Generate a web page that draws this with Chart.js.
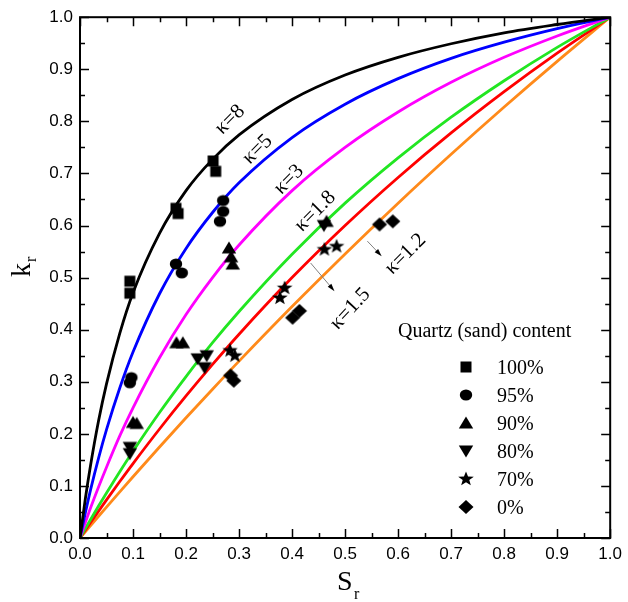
<!DOCTYPE html>
<html>
<head>
<meta charset="utf-8">
<script src="https://cdn.jsdelivr.net/npm/chart.js@4/dist/chart.umd.min.js"></script>
<style>
  html, body { margin: 0; padding: 0; background: #fff; }
  #wrap { width: 628px; height: 602px; position: relative; }
</style>
</head>
<body>
<div id="wrap"><canvas id="c" width="628" height="602"></canvas></div>
<script>
// ---- Model curves kr(Sr), sampled on a shared Sr grid ----
const srGrid  = [0, 0.01, 0.02, 0.035, 0.05, 0.075, 0.1, 0.15, 0.2, 0.25, 0.3, 0.4, 0.5, 0.6, 0.7, 0.8, 0.9, 1.0];
const kappa8  = [0, 0.0748, 0.140, 0.225, 0.296, 0.393, 0.471, 0.585, 0.667, 0.727, 0.774, 0.842, 0.889, 0.923, 0.949, 0.970, 0.986, 1];
const kappa5  = [0, 0.048, 0.093, 0.1535, 0.208, 0.288, 0.357, 0.469, 0.556, 0.625, 0.682, 0.769, 0.833, 0.882, 0.921, 0.952, 0.978, 1];
const kappa3  = [0, 0.0294, 0.058, 0.098, 0.136, 0.196, 0.25, 0.346, 0.429, 0.5, 0.5625, 0.667, 0.75, 0.818, 0.875, 0.923, 0.964, 1];
const kappa18 = [0, 0.0179, 0.0354, 0.0613, 0.0865, 0.1274, 0.1667, 0.241, 0.310, 0.375, 0.435, 0.545, 0.643, 0.730, 0.808, 0.878, 0.942, 1];
const kappa15 = [0, 0.0149, 0.0297, 0.0516, 0.0732, 0.1084, 0.1429, 0.2093, 0.2727, 0.3333, 0.3913, 0.5, 0.6, 0.6923, 0.7778, 0.8571, 0.9310, 1];
const kappa12 = [0, 0.012, 0.0239, 0.0417, 0.0594, 0.0887, 0.1176, 0.1748, 0.2308, 0.2857, 0.3396, 0.4444, 0.5455, 0.6429, 0.7368, 0.8276, 0.9153, 1];
const curveNames = ['κ=8', 'κ=5', 'κ=3', 'κ=1.8', 'κ=1.5', 'κ=1.2'];

// ---- Measurements, by quartz (sand) content ----
const sr100 = [0.094, 0.094, 0.181, 0.185, 0.251, 0.256];
const kr100 = [0.493, 0.470, 0.633, 0.623, 0.724, 0.704];
const sr95  = [0.094, 0.097, 0.181, 0.192, 0.264, 0.270, 0.270];
const kr95  = [0.298, 0.308, 0.526, 0.509, 0.608, 0.627, 0.648];
const sr90  = [0.100, 0.107, 0.182, 0.194, 0.281, 0.285, 0.288, 0.465];
const kr90  = [0.222, 0.220, 0.375, 0.375, 0.557, 0.540, 0.526, 0.608];
const sr80  = [0.094, 0.094, 0.222, 0.239, 0.235, 0.460];
const kr80  = [0.174, 0.162, 0.344, 0.350, 0.327, 0.600];
const sr70  = [0.283, 0.292, 0.377, 0.386, 0.461, 0.484];
const kr70  = [0.360, 0.350, 0.461, 0.480, 0.554, 0.560];
const sr0   = [0.284, 0.290, 0.401, 0.414, 0.565, 0.590];
const kr0   = [0.312, 0.302, 0.423, 0.436, 0.602, 0.608];
const contentNames = ['100%', '95%', '90%', '80%', '70%', '0%'];

// ---- Axis ticks ----
const tickValues = [0, 0.1, 0.2, 0.3, 0.4, 0.5, 0.6, 0.7, 0.8, 0.9, 1.0];

// ---- Styling ----
const curveColors = ['#000000', '#0000ff', '#ff00ff', '#22e622', '#ff0000', '#ff8a1a'];
const serif = '"Liberation Serif", "Times New Roman", serif';
const sans = '"Liberation Sans", Arial, sans-serif';

// Marker glyphs drawn once onto small canvases and reused by the datasets and the key
function makeMarker(kind) {
  const s = 18, c = document.createElement('canvas');
  c.width = s; c.height = s;
  const g = c.getContext('2d');
  g.fillStyle = '#000';
  g.translate(s / 2, s / 2);
  g.beginPath();
  if (kind === 'square') {
    g.rect(-5.5, -5.5, 11, 11);
  } else if (kind === 'circle') {
    g.ellipse(0, 0, 6.2, 5.6, 0, 0, Math.PI * 2);
  } else if (kind === 'up') {
    g.moveTo(0, -6.5); g.lineTo(7.2, 5.5); g.lineTo(-7.2, 5.5); g.closePath();
  } else if (kind === 'down') {
    g.moveTo(0, 6.5); g.lineTo(7.2, -5.5); g.lineTo(-7.2, -5.5); g.closePath();
  } else if (kind === 'star') {
    for (let i = 0; i < 10; i++) {
      const r = i % 2 === 0 ? 7.6 : 3.2;
      const a = -Math.PI / 2 + i * Math.PI / 5;
      const px = Math.cos(a) * r * 1.08, py = Math.sin(a) * r;
      if (i === 0) g.moveTo(px, py); else g.lineTo(px, py);
    }
    g.closePath();
  } else if (kind === 'diamond') {
    g.moveTo(0, -7); g.lineTo(7.5, 0); g.lineTo(0, 7); g.lineTo(-7.5, 0); g.closePath();
  }
  g.fill();
  return c;
}
const markerKinds = ['square', 'circle', 'up', 'down', 'star', 'diamond'];
const markers = markerKinds.map(makeMarker);

const toPts = (xs, ys) => xs.map((x, i) => ({ x: x, y: ys[i] }));

const curves = [kappa8, kappa5, kappa3, kappa18, kappa15, kappa12];
const measured = [[sr100, kr100], [sr95, kr95], [sr90, kr90], [sr80, kr80], [sr70, kr70], [sr0, kr0]];

const datasets = [];
measured.forEach((m, i) => {
  datasets.push({
    label: contentNames[i],
    data: toPts(m[0], m[1]),
    pointStyle: markers[i],
    pointRadius: 7,
    showLine: false,
    order: 0
  });
});
curves.forEach((ys, i) => {
  datasets.push({
    label: curveNames[i],
    data: toPts(srGrid, ys),
    showLine: true,
    borderColor: curveColors[i],
    borderWidth: 2.8,
    pointRadius: 0,
    cubicInterpolationMode: 'monotone',
    fill: false,
    order: 1
  });
});

// Curve labels (position in data units, rotation in degrees)
const curveTags = [
  { text: 'κ=8',   x: 0.283, y: 0.803, rot: -45 },
  { text: 'κ=5',   x: 0.335, y: 0.746, rot: -45 },
  { text: 'κ=3',   x: 0.394, y: 0.688, rot: -45 },
  { text: 'κ=1.8', x: 0.444, y: 0.627, rot: -45 },
  { text: 'κ=1.5', x: 0.510, y: 0.440, rot: -47 },
  { text: 'κ=1.2', x: 0.614, y: 0.545, rot: -45 }
];
// Pointer arrows from the labels to their curves
const pointers = [
  { x0: 0.435, y0: 0.528, x1: 0.480, y1: 0.474 },
  { x0: 0.542, y0: 0.570, x1: 0.569, y1: 0.541 }
];

const frameAndTicks = {
  id: 'frameAndTicks',
  afterDraw(chart) {
    const { ctx, chartArea: a } = chart;
    const xs = chart.scales.x, ys = chart.scales.y;
    ctx.save();
    ctx.strokeStyle = '#000';
    ctx.lineWidth = 1.5;
    for (let i = 0; i <= 20; i++) {
      const v = i / 20;
      const len = i % 2 === 0 ? 9 : 5;
      const px = Math.round(xs.getPixelForValue(v)) + 0.5;
      const py = Math.round(ys.getPixelForValue(v)) + 0.5;
      ctx.beginPath();
      ctx.moveTo(px, a.bottom); ctx.lineTo(px, a.bottom - len);
      ctx.moveTo(px, a.top); ctx.lineTo(px, a.top + len);
      ctx.moveTo(a.left, py); ctx.lineTo(a.left + len, py);
      ctx.moveTo(a.right, py); ctx.lineTo(a.right - len, py);
      ctx.stroke();
    }
    ctx.lineWidth = 2;
    ctx.strokeRect(a.left, a.top, a.right - a.left, a.bottom - a.top);
    ctx.restore();
  }
};

const notes = {
  id: 'notes',
  afterDraw(chart) {
    const { ctx } = chart;
    const xs = chart.scales.x, ys = chart.scales.y;
    ctx.save();
    ctx.fillStyle = '#000';

    // curve labels
    ctx.font = '21px ' + serif;
    ctx.textAlign = 'center';
    ctx.textBaseline = 'middle';
    curveTags.forEach(t => {
      ctx.save();
      ctx.translate(xs.getPixelForValue(t.x), ys.getPixelForValue(t.y));
      ctx.rotate(t.rot * Math.PI / 180);
      ctx.fillText(t.text, 0, 0);
      ctx.restore();
    });

    // pointer arrows
    pointers.forEach(p => {
      const x0 = xs.getPixelForValue(p.x0), y0 = ys.getPixelForValue(p.y0);
      const x1 = xs.getPixelForValue(p.x1), y1 = ys.getPixelForValue(p.y1);
      const ang = Math.atan2(y1 - y0, x1 - x0);
      ctx.strokeStyle = '#808080';
      ctx.lineWidth = 1;
      ctx.beginPath(); ctx.moveTo(x0, y0); ctx.lineTo(x1 - 5 * Math.cos(ang), y1 - 5 * Math.sin(ang)); ctx.stroke();
      ctx.beginPath();
      ctx.moveTo(x1, y1);
      ctx.lineTo(x1 - 8 * Math.cos(ang - 0.3), y1 - 8 * Math.sin(ang - 0.3));
      ctx.lineTo(x1 - 8 * Math.cos(ang + 0.3), y1 - 8 * Math.sin(ang + 0.3));
      ctx.closePath();
      ctx.fillStyle = '#000';
      ctx.fill();
    });

    // key
    ctx.textAlign = 'left';
    ctx.textBaseline = 'alphabetic';
    ctx.font = '20px ' + serif;
    ctx.fillText('Quartz (sand) content', 398, 337);
    contentNames.forEach((name, i) => {
      const cy = 367 + i * 28;
      ctx.drawImage(markers[i], 466 - 9, cy - 9);
      ctx.fillText(name, 497, cy + 7);
    });

    // axis titles
    ctx.font = '28px ' + serif;
    ctx.fillText('S', 337, 590);
    ctx.font = '16px ' + serif;
    ctx.fillText('r', 354, 599);

    ctx.save();
    ctx.translate(30, 277);
    ctx.rotate(-Math.PI / 2);
    ctx.font = '28px ' + serif;
    ctx.fillText('k', 0, 0);
    ctx.font = '16px ' + serif;
    ctx.fillText('r', 15, 6);
    ctx.restore();

    ctx.restore();
  }
};

const tickFont = { family: sans, size: 17 };

new Chart(document.getElementById('c'), {
  type: 'scatter',
  data: { datasets: datasets },
  options: {
    responsive: false,
    animation: false,
    devicePixelRatio: 1,
    layout: { padding: { top: 15, right: 17, left: 0, bottom: 0 } },
    plugins: { legend: { display: false }, tooltip: { enabled: false } },
    scales: {
      x: {
        type: 'linear', min: 0, max: 1,
        afterBuildTicks: s => { s.ticks = tickValues.map(v => ({ value: v })); },
        afterFit: s => { s.height = 64; },
        grid: { display: false, drawTicks: false },
        border: { display: false },
        ticks: { font: tickFont, color: '#000', padding: 6, maxRotation: 0, autoSkip: false,
                 callback: v => Number(v).toFixed(1) }
      },
      y: {
        type: 'linear', min: 0, max: 1,
        afterBuildTicks: s => { s.ticks = tickValues.map(v => ({ value: v })); },
        afterFit: s => { s.width = 80; },
        grid: { display: false, drawTicks: false },
        border: { display: false },
        ticks: { font: tickFont, color: '#000', padding: 7, autoSkip: false,
                 callback: v => Number(v).toFixed(1) }
      }
    }
  },
  plugins: [frameAndTicks, notes]
});
</script>
</body>
</html>
